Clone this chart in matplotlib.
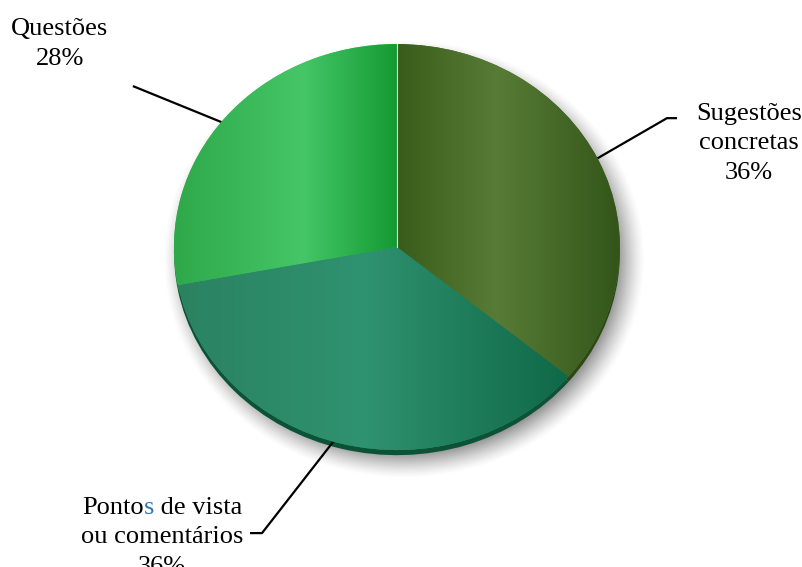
import numpy as np
import matplotlib
matplotlib.use('Agg')
import matplotlib.pyplot as plt
from matplotlib.colors import LinearSegmentedColormap

# dados do gráfico
categorias = ['Sugestões concretas', 'Pontos de vista ou comentários', 'Questões']
percentagens = [36, 36, 28]

# linhas de cada rótulo: lista de pedaços (texto, cor)
rotulos = [
    [[('Sugestões', 'black')], [('concretas', 'black')], [('36%', 'black')]],
    [[('Ponto', 'black'), ('s', '#2e75b6'), (' de vista', 'black')],
     [('ou comentários', 'black')], [('36%', 'black')]],
    [[('Questões', 'black')], [('28%', 'black')]],
]

# gradiente horizontal de cada fatia (posição x em raios, cor)
grad_x = [[0.0, 0.45, 1.0], [-1.0, -0.15, 0.78], [-1.0, -0.42, 0.0]]
grad_cores = [['#3a5c1b', '#587c36', '#33551a'],
              ['#2b8261', '#2f9270', '#0f6847'],
              ['#2fa84a', '#45c667', '#149a33']]
cores_lado = ['#2c4713', '#0c5238', '#127a2a']

# posição do rótulo (centro x, linha de base da 1a linha) e cotovelo da linha guia
pos_rotulo = [(1.578, 0.626), (-1.054, -1.315), (-1.511, 1.044)]
cotovelo = [[(1.211, 0.635), (1.256, 0.635)],
            [(-0.605, -1.409), (-0.659, -1.409)],
            [(-1.184, 0.793)]]

fig = plt.figure(figsize=(8.03, 5.67), dpi=100)
ax = fig.add_axes([0, 0, 1, 1])
ax.axis('off')

# sombra difusa por baixo do disco
gx, gy = np.meshgrid(np.linspace(-1.4, 1.4, 400), np.linspace(-1.4, 1.2, 400))
d = np.sqrt(((gx - 0.03) / 1.01) ** 2 + ((gy + 0.06) / 1.01) ** 2)
sombra = np.zeros(gx.shape + (4,))
sombra[..., :3] = 0.42
sombra[..., 3] = 0.7 * np.clip((1.07 - d) / 0.12, 0, 1) ** 1.3
ax.imshow(sombra, extent=(-1.4, 1.4, -1.4, 1.2), origin='lower',
          aspect='auto', zorder=0, interpolation='bilinear')

# lado (espessura) do disco
ax.pie(percentagens, startangle=90, counterclock=False, center=(0, -0.025),
       colors=cores_lado, wedgeprops=dict(linewidth=0, zorder=1))

wedges, _ = ax.pie(percentagens, startangle=90, counterclock=False,
                   colors=[c[1] for c in grad_cores],
                   wedgeprops=dict(linewidth=0, zorder=2))

ax.set_aspect('auto')
ax.set_xlim(-1.780, 1.821)
ax.set_ylim(-1.576, 1.217)

# preenchimento em gradiente recortado em cada fatia
grad = np.linspace(0, 1, 256).reshape(1, -1)
for w, xs, cs in zip(wedges, grad_x, grad_cores):
    x0, x1 = xs[0], xs[-1]
    stops = [((x - x0) / (x1 - x0), c) for x, c in zip(xs, cs)]
    cmap = LinearSegmentedColormap.from_list('g', stops)
    im = ax.imshow(grad, cmap=cmap, extent=(x0, x1, -1.05, 1.05),
                   aspect='auto', zorder=3, interpolation='bilinear')
    im.set_clip_path(w)

# fio claro entre a primeira e a última fatia
a0 = np.deg2rad(90)
ax.plot([0, np.cos(a0)], [0, np.sin(a0)], color='#d8f0d0', lw=0.8, zorder=4)

ax.set_xlim(-1.780, 1.821)
ax.set_ylim(-1.576, 1.217)

# linhas guia a partir do meio de cada fatia
inicio = 90.0
for p, pts in zip(percentagens, cotovelo):
    meio = np.deg2rad(inicio - p * 3.6 / 2)
    inicio -= p * 3.6
    xs = [0.9 * np.cos(meio)] + [q[0] for q in pts]
    ys = [0.9 * np.sin(meio)] + [q[1] for q in pts]
    ax.plot(xs, ys, color='black', lw=1.6, zorder=1.5, solid_capstyle='butt')

# rótulos, linha a linha, centrados
fonte = dict(family='Liberation Serif', size=19)
renderer = fig.canvas.get_renderer()
esc_x = ax.transData.transform((1, 0))[0] - ax.transData.transform((0, 0))[0]
passo = 0.145
for (cx, y0), linhas in zip(pos_rotulo, rotulos):
    for i, pedacos in enumerate(linhas):
        y = y0 - i * passo
        txt, cor = pedacos[0]
        t0 = ax.text(cx, y, txt, color=cor, ha='left', va='baseline', **fonte)
        largura = t0.get_window_extent(renderer).width
        ant = t0
        for txt, cor in pedacos[1:]:
            t = ax.annotate(txt, xy=(1, 0), xycoords=ant, ha='left',
                            va='bottom', color=cor, **fonte)
            largura += t.get_window_extent(renderer).width
            ant = t
        t0.set_x(cx - largura / esc_x / 2)

fig.savefig('out.png', dpi=100)
